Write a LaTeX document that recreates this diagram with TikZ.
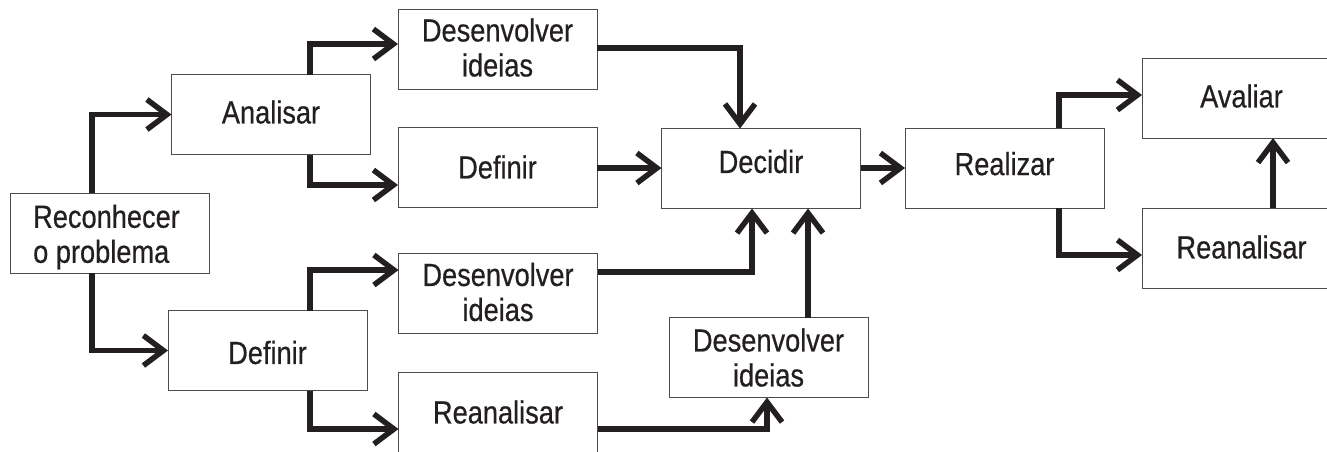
\documentclass[tikz,border=0pt]{standalone}
\usepackage{fontspec}
\setmainfont{Liberation Sans}[FakeStretch=0.85,FakeBold=0.5]
\usetikzlibrary{arrows.meta}
\definecolor{ink}{HTML}{231F20}
\begin{document}
\begin{tikzpicture}[x=1pt,y=-1pt,
  box/.style={draw=black!70, line width=1pt, minimum width=199pt, minimum height=80pt, inner sep=0pt, outer sep=0pt},
  txt/.style={text=ink, font=\fontsize{32}{35}\selectfont, inner sep=0pt, align=center},
  arr/.style={draw=ink, line width=5.5pt, line join=miter, line cap=butt, -{Straight Barb[length=20pt,width=30pt]}}]
\useasboundingbox (0,0) rectangle (1327,451);
\clip (0,0) rectangle (1327,451);
\fill[white] (0,0) rectangle (1327,451);
% boxes
\node[box] (rec)  at (110,233)   {};
\node[box] (ana)  at (271,114.5) {};
\node[box] (dev1) at (497.5,49)  {};
\node[box] (def1) at (497.5,167) {};
\node[box] (dec)  at (761,168.5) {};
\node[box] (def2) at (267.5,350.5) {};
\node[box] (dev2) at (498,293)   {};
\node[box] (rea1) at (498,412)   {};
\node[box] (dev3) at (768.5,357.5) {};
\node[box] (rlz)  at (1004.5,168) {};
\node[box] (ava)  at (1241.5,98) {};
\node[box] (rea2) at (1241.5,248) {};
% texts
\node[txt, align=left, anchor=west] (recT) at ([yshift=-4pt]rec.west -| 33,0) {Reconhecer\\o problema};
\node[txt] (anaT)  at ([yshift=2.5pt]ana.center) {Analisar};
\node[txt] (dev1T) at ([yshift=1.5pt]dev1.center) {Desenvolver\\ideias};
\node[txt] (def1T) at (def1.center) {Definir};
\node[txt] (decT)  at ([yshift=7pt]dec.center) {Decidir};
\node[txt] (def2T) at ([yshift=-2pt]def2.center) {Definir};
\node[txt] (dev2T) at ([yshift=1pt]dev2.center) {Desenvolver\\ideias};
\node[txt] (rea1T) at (rea1.center) {Reanalisar};
\node[txt] (dev3T) at (dev3.center) {Desenvolver\\ideias};
\node[txt] (rlzT)  at ([yshift=4.3pt]rlz.center) {Realizar};
\node[txt] (avaT)  at ([yshift=2pt]ava.center) {Avaliar};
\node[txt] (rea2T) at ([yshift=1pt]rea2.center) {Reanalisar};
% connectors
\draw[arr] (92,0 |- rec.north) |- (ana.west);
\draw[arr] (92,0 |- rec.south) |- (def2.west);
\draw[arr] (310,0 |- ana.north) |- (dev1.west |- 0,44);
\draw[arr] (310,0 |- ana.south) |- (def1.west |- 0,185);
\draw[arr] (dev1.east |- 0,48) -| (740,0 |- dec.north);
\draw[arr] (def1.east |- 0,168) -- (dec.west |- 0,168);
\draw[arr] (dec.east |- 0,168) -- (rlz.west |- 0,168);
\draw[arr] (dev2.east |- 0,272) -| (752,0 |- dec.south);
\draw[arr] (808,0 |- dev3.north) -- (808,0 |- dec.south);
\draw[arr] (rea1.east |- 0,429) -| (767,0 |- dev3.south);
\draw[arr] (310,0 |- def2.north) |- (dev2.west |- 0,270);
\draw[arr] (310,0 |- def2.south) |- (rea1.west |- 0,429);
\draw[arr] (1059,0 |- rlz.north) |- (ava.west |- 0,95);
\draw[arr] (1059,0 |- rlz.south) |- (rea2.west |- 0,255);
\draw[arr] (1273,0 |- rea2.north) -- (1273,0 |- ava.south);
\end{tikzpicture}
\end{document}
